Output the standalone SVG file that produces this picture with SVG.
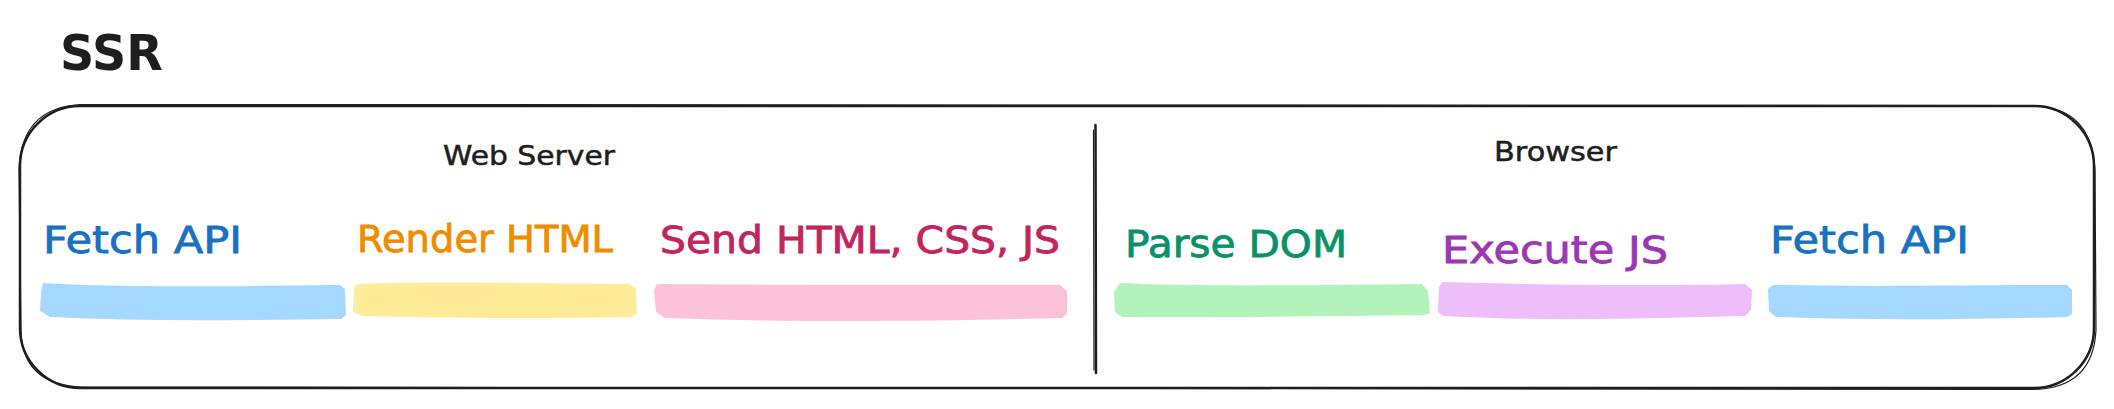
<svg xmlns="http://www.w3.org/2000/svg" width="2114" height="409" viewBox="0 0 2114 409">
<style>
  text { font-family: "DejaVu Sans", "Noto Sans", sans-serif; }
  .title { font-size: 50px; fill: #1e1e1e; font-weight: 600; }
  .head { font-size: 26px; fill: #1e1e1e; stroke: #1e1e1e; stroke-width: 0.5; }
  .lbl { font-size: 37px; stroke-width: 0.8; }
  .frame { fill: none; stroke: #1e1e1e; stroke-width: 2.5; stroke-linecap: round; }
  .frame2 { fill: none; stroke: #1e1e1e; stroke-width: 1.2; stroke-linecap: round; }
  .bar { stroke: none; }
</style>
<rect width="2114" height="409" fill="#ffffff"/>

<g id="title">
  <text class="title" x="60" y="70" textLength="103" lengthAdjust="spacingAndGlyphs">SSR</text>
</g>

<g id="container">
  <rect class="frame" x="20" y="106" width="2074" height="282" rx="60" ry="60"/>
  <path class="frame2" d="M80,104.5 L2032,105.5 Q2092,107 2095,170 L2096,330 Q2093,389 2032,389.5 L82,387 Q22,385 21,330 L19,168 Q22,108 80,104.5"/>
</g>

<g id="divider">
  <path class="frame" d="M1095.5,125 L1096,373"/>
  <path class="frame2" d="M1093.5,130 L1094,370"/>
</g>

<g id="web-server">
  <text class="head" x="443" y="165" textLength="172" lengthAdjust="spacingAndGlyphs">Web Server</text>
</g>
<g id="browser">
  <text class="head" x="1494" y="161" textLength="123" lengthAdjust="spacingAndGlyphs">Browser</text>
</g>

<g id="fetch-api-1">
  <path class="bar" fill="#a5d8ff" d="M43,283 C120,288 250,286 340,285 L345,289 L346,315 L341,319 C250,320 150,322 50,317 L40,311 L41,292 Z"/>
  <text class="lbl" fill="#1971c2" stroke="#1971c2" x="43" y="253" textLength="199" lengthAdjust="spacingAndGlyphs">Fetch API</text>
</g>

<g id="render-html">
  <path class="bar" fill="#ffec99" d="M357,284 C420,281 540,283 630,284 L636,289 L637,314 L632,317 C540,319 440,318 362,316 L353,312 L354,288 Z"/>
  <text class="lbl" fill="#f08c00" stroke="#f08c00" x="357" y="252" textLength="256" lengthAdjust="spacingAndGlyphs">Render HTML</text>
</g>

<g id="send-html">
  <path class="bar" fill="#fcc2d7" d="M657,284 C760,285 950,285 1060,285 L1067,291 L1067,314 L1062,318 C950,321 800,323 665,318 L656,312 L654,290 Z"/>
  <text class="lbl" fill="#c2255c" stroke="#c2255c" x="660" y="253" textLength="400" lengthAdjust="spacingAndGlyphs">Send HTML, CSS, JS</text>
</g>

<g id="parse-dom">
  <path class="bar" fill="#b2f2bb" d="M1120,283 C1200,287 1320,285 1422,284 L1428,291 L1430,313 L1424,315 C1330,316 1220,318 1122,317 L1115,312 L1114,292 Z"/>
  <text class="lbl" fill="#099268" stroke="#099268" x="1125" y="257" textLength="222" lengthAdjust="spacingAndGlyphs">Parse DOM</text>
</g>

<g id="execute-js">
  <path class="bar" fill="#eebefa" d="M1442,282 C1540,285 1660,286 1745,284 L1752,290 L1751,310 L1745,316 C1650,318 1560,322 1443,316 L1438,312 L1439,287 Z"/>
  <text class="lbl" fill="#9c36b5" stroke="#9c36b5" x="1442" y="263" textLength="226" lengthAdjust="spacingAndGlyphs">Execute JS</text>
</g>

<g id="fetch-api-2">
  <path class="bar" fill="#a5d8ff" d="M1773,285 C1870,287 1990,285 2067,285 L2072,290 L2072,314 L2067,317 C1990,319 1880,321 1776,317 L1769,311 L1768,289 Z"/>
  <text class="lbl" fill="#1971c2" stroke="#1971c2" x="1770" y="253" textLength="199" lengthAdjust="spacingAndGlyphs">Fetch API</text>
</g>
</svg>
